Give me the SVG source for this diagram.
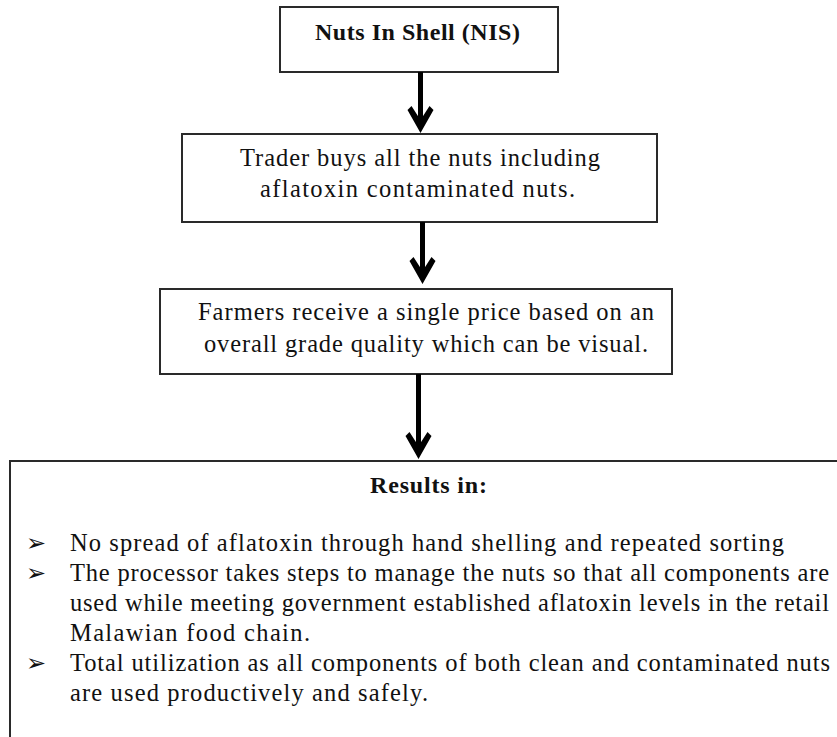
<svg xmlns="http://www.w3.org/2000/svg" width="837" height="737" viewBox="0 0 837 737">
  <style>
    .box { fill: #ffffff; stroke: #2a2a2a; stroke-width: 2; }
    .t { font-family: "Liberation Serif", "Times New Roman", serif; font-size: 24.5px; fill: #111111; }
    .b { font-weight: bold; font-size: 24px; }
    .bul { font-family: "DejaVu Sans", sans-serif; font-size: 24px; font-weight: bold; fill: #111111; }
    .conn { stroke: #000000; stroke-width: 5; fill: none; }
  </style>
  <defs>
    <marker id="vhead" markerUnits="userSpaceOnUse" orient="auto" refX="-12" refY="0" markerWidth="30" markerHeight="30" overflow="visible">
      <path d="M0,0 L-23,-13 L-27,-9 L-13,0 L-27,9 L-23,13 Z" fill="#000000"/>
    </marker>
  </defs>
  <rect width="837" height="737" fill="#ffffff"/>

  <g id="node-nis">
    <rect class="box" x="280" y="7" width="278" height="65"/>
    <text class="t b" x="315" y="40" textLength="205">Nuts In Shell (NIS)</text>
  </g>

  <g id="node-trader">
    <rect class="box" x="182" y="134" width="475" height="88"/>
    <text class="t" x="240" y="166" textLength="360">Trader buys all the nuts including</text>
    <text class="t" x="260" y="197" textLength="315">aflatoxin contaminated nuts.</text>
  </g>

  <g id="node-farmers">
    <rect class="box" x="160" y="289" width="512" height="85"/>
    <text class="t" x="198" y="320" textLength="456">Farmers receive a single price based on an</text>
    <text class="t" x="204" y="352" textLength="444">overall grade quality which can be visual.</text>
  </g>

  <g id="node-results">
    <rect class="box" x="10" y="461" width="860" height="320"/>
    <text class="t b" x="370" y="493" textLength="117">Results in:</text>
    <text class="bul" x="26" y="551">➢</text>
    <text class="t" x="70" y="551" textLength="714">No spread of aflatoxin through hand shelling and repeated sorting</text>
    <text class="bul" x="26" y="581">➢</text>
    <text class="t" x="70" y="581" textLength="759">The processor takes steps to manage the nuts so that all components are</text>
    <text class="t" x="70" y="611" textLength="759">used while meeting government established aflatoxin levels in the retail</text>
    <text class="t" x="70" y="641" textLength="240">Malawian food chain.</text>
    <text class="bul" x="26" y="671">➢</text>
    <text class="t" x="70" y="671" textLength="760">Total utilization as all components of both clean and contaminated nuts</text>
    <text class="t" x="70" y="701" textLength="358">are used productively and safely.</text>
  </g>

  <g id="connectors">
    <line class="conn" x1="420.5" y1="72" x2="420.5" y2="121" marker-end="url(#vhead)"/>
    <line class="conn" x1="422.5" y1="222" x2="422.5" y2="272" marker-end="url(#vhead)"/>
    <line class="conn" x1="418.5" y1="374" x2="418.5" y2="447" marker-end="url(#vhead)"/>
  </g>
</svg>
